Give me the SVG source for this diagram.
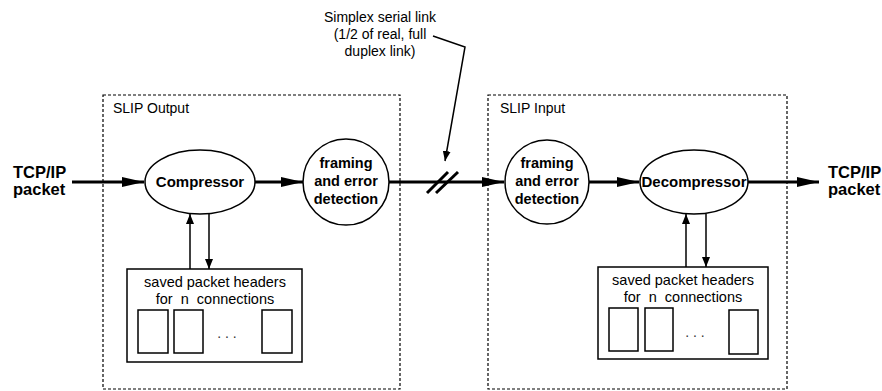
<svg xmlns="http://www.w3.org/2000/svg" width="882" height="391" viewBox="0 0 882 391">
<style>
.sans{font-family:"Liberation Sans",Arial,sans-serif;}
.b{font-weight:bold;}
.pre{white-space:pre;}
.dash{fill:none;stroke:#000;stroke-width:1.2;stroke-dasharray:3,2;}
.shape{fill:#fff;stroke:#000;stroke-width:1.5;}
.thick{fill:none;stroke:#000;stroke-width:3;}
.thin{fill:none;stroke:#000;stroke-width:1.5;}
</style>
<defs>
<marker id="big" markerWidth="22" markerHeight="10" refX="22" refY="5" orient="auto" markerUnits="userSpaceOnUse">
<path d="M0,0 L22,5 L0,10 Z" fill="#000"/>
</marker>
<marker id="small" markerWidth="10" markerHeight="8" refX="10" refY="4" orient="auto" markerUnits="userSpaceOnUse">
<path d="M0,0 L10,4 L0,8 Z" fill="#000"/>
</marker>
</defs>
<rect width="882" height="391" fill="#fff"/>

<g id="slip-output">
<rect class="dash" x="103" y="95" width="297" height="294"/>
<text class="sans" x="113" y="113" font-size="14">SLIP Output</text>
</g>
<g id="slip-input">
<rect class="dash" x="488" y="95" width="299" height="294"/>
<text class="sans" x="500" y="113" font-size="14">SLIP Input</text>
</g>

<g id="tcp-in">
<text class="sans b" x="13" y="178" font-size="16.5">TCP/IP</text>
<text class="sans b" x="13" y="195" font-size="16.5">packet</text>
</g>
<g id="tcp-out">
<text class="sans b" x="828" y="178" font-size="16.5">TCP/IP</text>
<text class="sans b" x="828" y="195" font-size="16.5">packet</text>
</g>

<g id="simplex-label">
<text class="sans" text-anchor="middle" font-size="14"><tspan x="380" y="22">Simplex serial link</tspan><tspan x="380" y="39">(1/2 of real, full</tspan><tspan x="380" y="56">duplex link)</tspan></text>
</g>

<g id="compressor">
<ellipse class="shape" cx="200" cy="182" rx="55" ry="32"/>
<text class="sans b" x="200" y="187" font-size="15" text-anchor="middle">Compressor</text>
</g>
<g id="framing-out">
<circle class="shape" cx="346" cy="182" r="43"/>
<text class="sans b" text-anchor="middle" font-size="14.5"><tspan x="346" y="168">framing</tspan><tspan x="346" y="186">and error</tspan><tspan x="346" y="204">detection</tspan></text>
</g>
<g id="framing-in">
<circle class="shape" cx="547" cy="182" r="42"/>
<text class="sans b" text-anchor="middle" font-size="14.5"><tspan x="547" y="168">framing</tspan><tspan x="547" y="186">and error</tspan><tspan x="547" y="204">detection</tspan></text>
</g>
<g id="decompressor">
<ellipse class="shape" cx="694" cy="182" rx="54" ry="32"/>
<text class="sans b" x="694" y="187" font-size="15" text-anchor="middle">Decompressor</text>
</g>

<g id="headers-out">
<rect class="shape" x="127" y="269" width="175" height="93"/>
<text class="sans pre" text-anchor="middle" font-size="14.5"><tspan x="215" y="287">saved packet headers</tspan><tspan x="215" y="304">for  n  connections</tspan></text>
<rect class="shape" x="138" y="310" width="30" height="43"/>
<rect class="shape" x="174" y="310" width="29" height="43"/>
<rect class="shape" x="262" y="310" width="30" height="43"/>
<text class="sans" x="227" y="338" font-size="14" text-anchor="middle" fill="#333">. . .</text>
</g>
<g id="headers-in">
<rect class="shape" x="598" y="267" width="170" height="92"/>
<text class="sans pre" text-anchor="middle" font-size="14.5"><tspan x="683" y="285">saved packet headers</tspan><tspan x="683" y="302">for  n  connections</tspan></text>
<rect class="shape" x="609" y="308" width="29" height="43"/>
<rect class="shape" x="645" y="308" width="28" height="43"/>
<rect class="shape" x="729" y="310" width="29" height="44"/>
<text class="sans" x="695" y="337" font-size="14" text-anchor="middle" fill="#333">. . .</text>
</g>

<g id="connectors">
<line class="thick" x1="72" y1="182" x2="144" y2="182" marker-end="url(#big)"/>
<line class="thick" x1="255" y1="182" x2="303" y2="182" marker-end="url(#big)"/>
<line class="thick" x1="389" y1="182" x2="504" y2="182" marker-end="url(#big)"/>
<line class="thick" x1="589" y1="182" x2="639" y2="182" marker-end="url(#big)"/>
<line class="thick" x1="748" y1="182" x2="819" y2="182" marker-end="url(#big)"/>
<line class="thick" x1="427" y1="193" x2="448" y2="172"/>
<line class="thick" x1="436" y1="193" x2="458" y2="172"/>
<polyline class="thin" points="433,36 465,47 445,161" marker-end="url(#small)"/>
<line class="thin" x1="190" y1="269" x2="190" y2="214" marker-end="url(#small)"/>
<line class="thin" x1="209" y1="214" x2="209" y2="269" marker-end="url(#small)"/>
<line class="thin" x1="686" y1="267" x2="686" y2="214" marker-end="url(#small)"/>
<line class="thin" x1="706" y1="214" x2="706" y2="267" marker-end="url(#small)"/>
</g>
</svg>
